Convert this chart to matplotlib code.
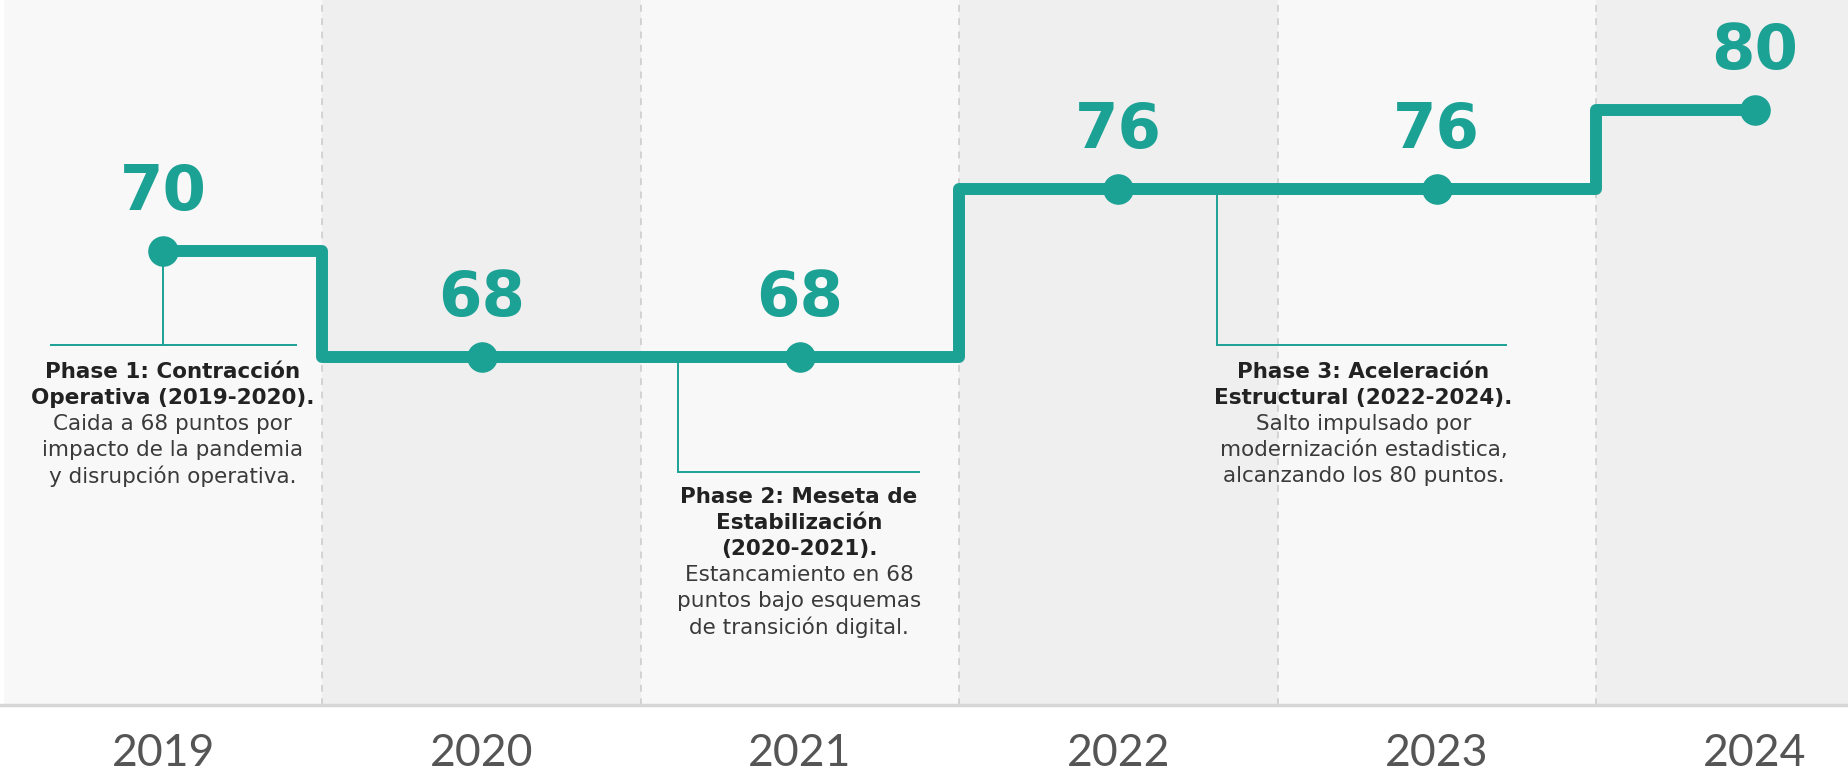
import numpy as np
import matplotlib
matplotlib.use("Agg")
import matplotlib.pyplot as plt

# ---- data ----
years = ["2019", "2020", "2021", "2022", "2023", "2024"]
values = [70, 68, 68, 76, 76, 80]
value_labels = ["70", "68", "68", "76", "76", "80"]

phase_titles = [
    ["Phase 1: Contracción", "Operativa (2019-2020)."],
    ["Phase 2: Meseta de", "Estabilización", "(2020-2021)."],
    ["Phase 3: Aceleración", "Estructural (2022-2024)."],
]
phase_bodies = [
    ["Caida a 68 puntos por", "impacto de la pandemia", "y disrupción operativa."],
    ["Estancamiento en 68", "puntos bajo esquemas", "de transición digital."],
    ["Salto impulsado por", "modernización estadistica,", "alcanzando los 80 puntos."],
]

TEAL = "#1ca195"

# infographic (non-linear) value axis
_v = np.array([60, 68, 70, 76, 80, 90], dtype=float)
_p = np.array([0, 348, 454, 516, 595, 705], dtype=float)
def fwd(v):
    return np.interp(v, _v, _p)
def inv(p):
    return np.interp(p, _p, _v)

fig = plt.figure(figsize=(18.49, 7.75), dpi=100, facecolor="white")
ax = fig.add_axes([0, 70 / 775, 1, 705 / 775])
ax.set_yscale("function", functions=(fwd, inv))
ax.set_ylim(60, 90)
n = len(years)
x = np.arange(n)
ax.set_xlim(-0.513, 5.295)

# column backgrounds
for i in range(n):
    ax.axvspan(i - 0.5, i + 0.5, color="#f8f8f8" if i % 2 == 0 else "#efefef",
               zorder=0, lw=0)
for i in range(n - 1):
    ax.axvline(i + 0.5, color="#cdcdcd", lw=1.2, ls=(0, (4, 4)), zorder=1)

# step line
ax.plot(x, values, drawstyle="steps-mid", color=TEAL, lw=8.6,
        solid_joinstyle="round", solid_capstyle="round", zorder=4)
ax.plot(x, values, "o", color=TEAL, ms=21, zorder=5)

for xi, v, lab in zip(x, values, value_labels):
    ax.annotate(lab, (xi, v), xytext=(0, 42), textcoords="offset points",
                ha="center", va="center", fontsize=45, fontweight="bold",
                color=TEAL, family="DejaVu Sans", zorder=6)

# callouts
tr = ax.get_xaxis_transform()
callouts = [
    # attach x, level value idx, horiz from, horiz to, text x, line level frac, text top frac
    (0.0, 0, -0.355, 0.42, 0.03, 0.511, 0.472),
    (1.617, 1, 1.617, 2.377, 1.997, 0.330, 0.295),
    (3.31, 3, 3.31, 4.22, 3.77, 0.511, 0.472),
]
for k, (ax_x, vi, h0, h1, tx, lf, tf) in enumerate(callouts):
    ylev = inv(lf * 705)
    ax.plot([ax_x, ax_x], [values[vi], ylev], color=TEAL, lw=1.4, zorder=3)
    ax.plot([h0, h1], [ylev, ylev], color=TEAL, lw=1.4, zorder=3,
            solid_capstyle="butt")
    lines = [(t, "bold", "#222222") for t in phase_titles[k]] + \
            [(t, "normal", "#3a3a3a") for t in phase_bodies[k]]
    for j, (t, w, c) in enumerate(lines):
        ax.annotate(t, (tx, tf), xycoords=tr, xytext=(0, -j * 18.7),
                    textcoords="offset points", ha="center", va="center",
                    fontsize=15.5, fontweight=w, color=c, family="DejaVu Sans")

# axis styling
for s in ["top", "left", "right"]:
    ax.spines[s].set_visible(False)
ax.spines["bottom"].set_color("#d6d6d6")
ax.spines["bottom"].set_linewidth(2.5)
ax.set_yticks([])
ax.set_yticks([], minor=True)
ax.set_xticks(x)
ax.set_xticklabels(years, fontsize=32, color="#555555",
                   family=["Lato", "DejaVu Sans"], fontweight="normal")
ax.tick_params(axis="x", length=0, pad=20)

fig.savefig("out.png", dpi=100, facecolor="white")
